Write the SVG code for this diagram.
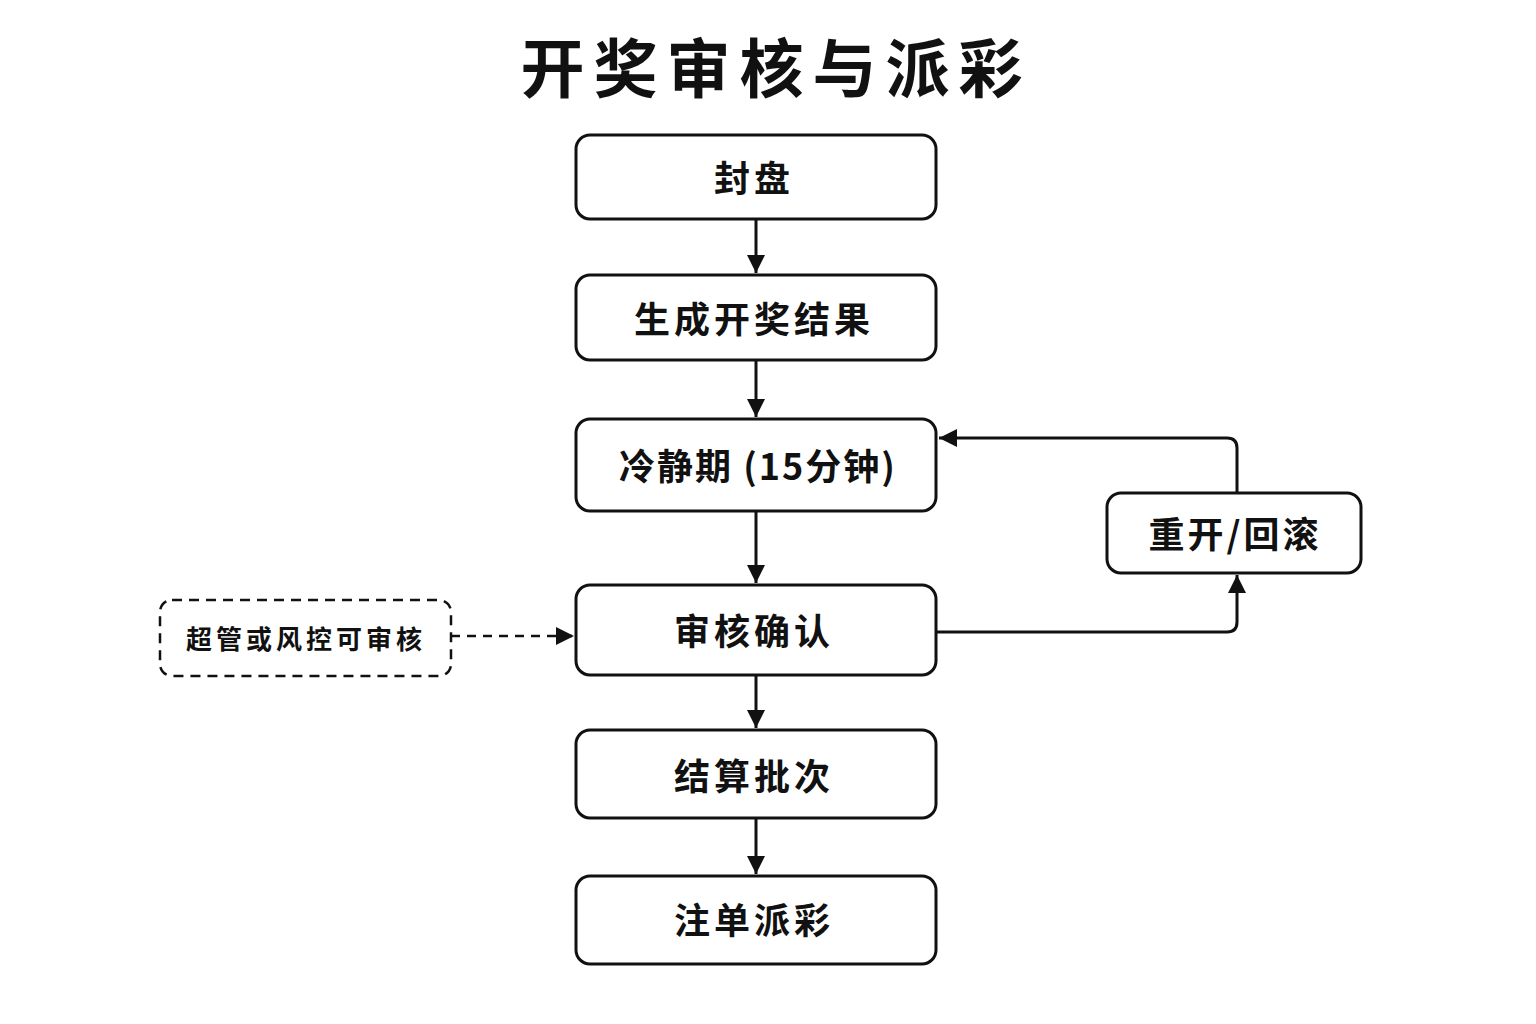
<svg xmlns="http://www.w3.org/2000/svg" width="1536" height="1024" viewBox="0 0 1536 1024">
<style>
.box{fill:#fff;stroke:#111;stroke-width:3}
.dash{fill:#fff;stroke:#111;stroke-width:2.5;stroke-dasharray:10 7}
.t{font-family:"Noto Sans CJK SC","Noto Sans",sans-serif;font-weight:700;fill:#111;text-anchor:middle;dominant-baseline:central}
.n{font-size:36px;letter-spacing:4px}
.s{font-size:26px;letter-spacing:4px}
.e{fill:none;stroke:#111;stroke-width:3}
.ed{fill:none;stroke:#111;stroke-width:2.5;stroke-dasharray:9 7}
</style>
<defs>
<marker id="a" viewBox="0 0 18 18" refX="18" refY="9" markerWidth="18" markerHeight="18" markerUnits="userSpaceOnUse" orient="auto">
<path d="M0,0 L18,9 L0,18 z" fill="#111"/>
</marker>
</defs>
<rect width="1536" height="1024" fill="#fff"/>
<text class="t" x="776" y="64" style="font-size:64px;letter-spacing:9px">开奖审核与派彩</text>
<g id="connectors">
<line class="e" x1="756" y1="219" x2="756" y2="273" marker-end="url(#a)"/>
<line class="e" x1="756" y1="360" x2="756" y2="417" marker-end="url(#a)"/>
<line class="e" x1="756" y1="511" x2="756" y2="583" marker-end="url(#a)"/>
<line class="e" x1="756" y1="675" x2="756" y2="728" marker-end="url(#a)"/>
<line class="e" x1="756" y1="818" x2="756" y2="874" marker-end="url(#a)"/>
<path class="e" d="M936,632 H1227 Q1237,632 1237,622 V575" marker-end="url(#a)"/>
<path class="e" d="M1237,493 V448 Q1237,438 1227,438 H939" marker-end="url(#a)"/>
<line class="ed" x1="451" y1="636" x2="574" y2="636" marker-end="url(#a)"/>
</g>
<g id="n1"><rect class="box" x="576" y="135" width="360" height="84" rx="14"/><text class="t n" x="754" y="176">封盘</text></g>
<g id="n2"><rect class="box" x="576" y="275" width="360" height="85" rx="14"/><text class="t n" x="754" y="317">生成开奖结果</text></g>
<g id="n3"><rect class="box" x="576" y="419" width="360" height="92" rx="14"/><text class="t n" x="758" y="464" style="letter-spacing:2px">冷静期 (15分钟)</text></g>
<g id="n4"><rect class="box" x="576" y="585" width="360" height="90" rx="14"/><text class="t n" x="754" y="629">审核确认</text></g>
<g id="n5"><rect class="box" x="576" y="730" width="360" height="88" rx="14"/><text class="t n" x="754" y="774">结算批次</text></g>
<g id="n6"><rect class="box" x="576" y="876" width="360" height="88" rx="14"/><text class="t n" x="754" y="918">注单派彩</text></g>
<g id="n7"><rect class="box" x="1107" y="493" width="254" height="80" rx="14"/><text class="t n" x="1235" y="532" style="letter-spacing:3px">重开/回滚</text></g>
<g id="n8"><rect class="dash" x="160" y="600" width="291" height="76" rx="12"/><text class="t s" x="306" y="637">超管或风控可审核</text></g>
</svg>
